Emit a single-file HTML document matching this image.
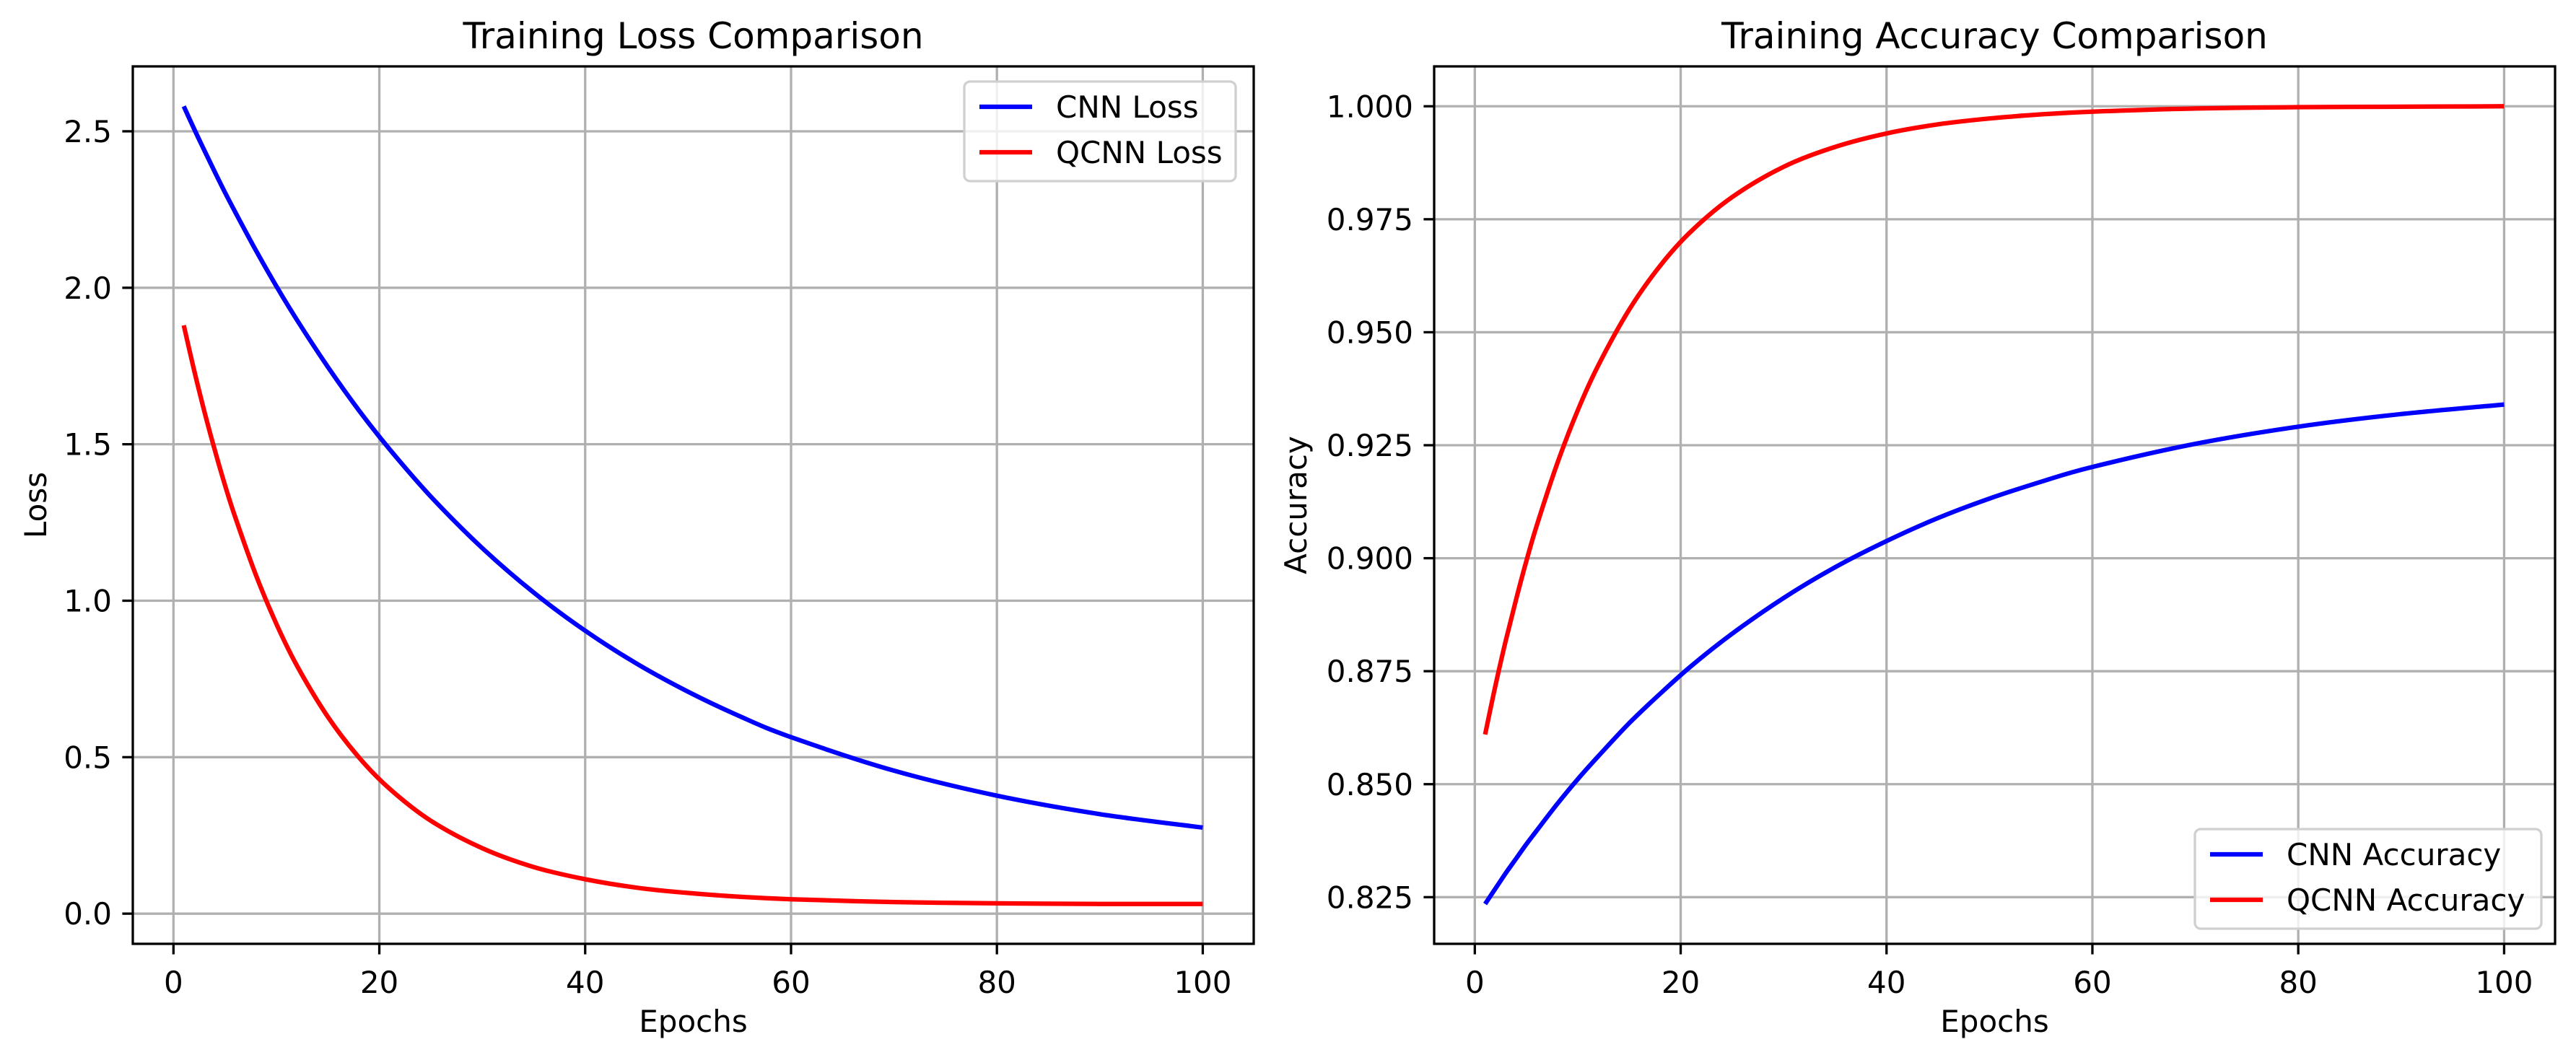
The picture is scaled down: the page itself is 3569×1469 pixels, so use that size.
<!DOCTYPE html>
<html><head><meta charset="utf-8"><style>
html,body{margin:0;padding:0;background:#fff;}
svg{display:block;font-family:"DejaVu Sans","Liberation Sans",sans-serif;}
</style></head><body>
<svg id="fig" width="3569" height="1469" viewBox="0 0 3569 1469" xmlns="http://www.w3.org/2000/svg">
<rect x="0" y="0" width="3569" height="1469" fill="#fff"/>
</svg>
<script>
const epochs = [1,2,3,4,5,6,8,10,12,15,18,21,25,30,35,40,45,50,55,60,70,80,90,100];
const cnnLoss = [2.58,2.508,2.439,2.371,2.305,2.242,2.120,2.005,1.897,1.747,1.609,1.484,1.333,1.168,1.026,0.904,0.799,0.709,0.631,0.564,0.457,0.377,0.318,0.275];
const qcnnLoss = [1.88,1.737,1.605,1.483,1.370,1.267,1.083,0.926,0.792,0.629,0.500,0.399,0.297,0.209,0.149,0.110,0.083,0.066,0.054,0.046,0.037,0.033,0.031,0.031];
const cnnAcc = [0.8235,0.8269,0.8303,0.8335,0.8367,0.8397,0.8456,0.8511,0.8562,0.8635,0.8700,0.8761,0.8833,0.8912,0.8980,0.9038,0.9089,0.9132,0.9169,0.9202,0.9253,0.9291,0.9319,0.9340];
const qcnnAcc = [0.861,0.8718,0.8817,0.8908,0.8993,0.9071,0.9209,0.9327,0.9427,0.9550,0.9647,0.9723,0.9799,0.9866,0.9910,0.9940,0.9960,0.9973,0.9982,0.9988,0.9995,0.9998,0.9999,1.0000];
const xTicks = [0,20,40,60,80,100];
const lossTicks = [0.0,0.5,1.0,1.5,2.0,2.5];
const lossTickLabels = ["0.0","0.5","1.0","1.5","2.0","2.5"];
const accTicks = [0.825,0.85,0.875,0.9,0.925,0.95,0.975,1.0];
const accTickLabels = ["0.825","0.850","0.875","0.900","0.925","0.950","0.975","1.000"];

const NS = "http://www.w3.org/2000/svg";
const svg = document.getElementById('fig');
function mk(tag, attrs, parent){
  const e = document.createElementNS(NS, tag);
  for (const k in attrs) e.setAttribute(k, attrs[k]);
  (parent||svg).appendChild(e);
  return e;
}
function txt(s, attrs, parent){ const e = mk('text', attrs, parent); e.textContent = s; return e; }
function smoothPath(P){
  let d='M'+P[0][0].toFixed(1)+','+P[0][1].toFixed(1);
  for(let i=0;i<P.length-1;i++){
    const p0=P[Math.max(i-1,0)],p1=P[i],p2=P[i+1],p3=P[Math.min(i+2,P.length-1)];
    const c1x=p1[0]+(p2[0]-p0[0])/6,c1y=p1[1]+(p2[1]-p0[1])/6;
    const c2x=p2[0]-(p3[0]-p1[0])/6,c2y=p2[1]-(p3[1]-p1[1])/6;
    d+=` C${c1x.toFixed(1)},${c1y.toFixed(1)} ${c2x.toFixed(1)},${c2y.toFixed(1)} ${p2[0].toFixed(1)},${p2[1].toFixed(1)}`;
  }
  return d;
}

function panel(cfg){
  const g = mk('g', {});
  
  
  const L=cfg.left,R=cfg.right,T=92,B=1308;
  const allY = cfg.series.flatMap(s=>s.values);
  let ymin=Math.min(...allY), ymax=Math.max(...allY);
  const ym=(ymax-ymin)*0.05; ymin-=ym; ymax+=ym;
  const xmn=Math.min(...epochs), xmx=Math.max(...epochs);
  const xm=(xmx-xmn)*0.05;
  const x0=xmn-xm, x1=xmx+xm;
  const sx=v=>L+(v-x0)/(x1-x0)*(R-L);
  const sy=v=>B-(v-ymin)/(ymax-ymin)*(B-T);
  xTicks.forEach(t=>{
    const l=mk('line',{x1:sx(t),x2:sx(t),y1:T,y2:B,stroke:'#b0b0b0','stroke-width':3.3},g);
    
    
  });
  cfg.yTicks.forEach(t=>{
    const l=mk('line',{x1:L,x2:R,y1:sy(t),y2:sy(t),stroke:'#b0b0b0','stroke-width':3.3},g);
    
    
  });
  cfg.series.forEach(s=>{
    const P=epochs.map((e,i)=>[sx(e),sy(s.values[i])]);
    const p=mk('path',{d:smoothPath(P),fill:'none',stroke:s.color,'stroke-width':6.25,'stroke-linejoin':'round'},g);
    
    
  });
  const fr=mk('rect',{x:L,y:T,width:R-L,height:B-T,fill:'none',stroke:'#000','stroke-width':3.3},g);
  
  
  xTicks.forEach(t=>{
    mk('line',{x1:sx(t),x2:sx(t),y1:B,y2:B+14.6,stroke:'#000','stroke-width':3.3},g);
    const tl=txt(String(t),{x:sx(t),y:1376,'font-size':42,'text-anchor':'middle',fill:'#000'},g);
    
    
  });
  cfg.yTicks.forEach((t,i)=>{
    mk('line',{x1:L-14.6,x2:L,y1:sy(t),y2:sy(t),stroke:'#000','stroke-width':3.3},g);
    const tl=txt(cfg.yLabels[i],{x:L-29,y:sy(t)+15,'font-size':42,'text-anchor':'end',fill:'#000'},g);
    
    
  });
  const ti=txt(cfg.title,{x:(L+R)/2,y:67,'font-size':50,'text-anchor':'middle',fill:'#000'},g);
  
  
  const xl=txt('Epochs',{x:(L+R)/2,y:1430,'font-size':42,'text-anchor':'middle',fill:'#000'},g);
  
  
  const yl=txt(cfg.ylabel,{x:0,y:0,'font-size':42,'text-anchor':'middle',fill:'#000',transform:`translate(${cfg.ylabelX},${(T+B)/2}) rotate(-90)`},g);
  
  
  const lg=mk('g',{},g);
  
  
  mk('rect',{x:cfg.leg.x,y:cfg.leg.y,width:cfg.leg.w,height:cfg.leg.h,rx:8,fill:'#fff','fill-opacity':0.8,stroke:'#d0d0d0','stroke-width':3.3},lg);
  cfg.series.forEach((s,i)=>{
    const yy=cfg.leg.y+35+i*63;
    const le=mk('g',{},lg);
    
    
    mk('line',{x1:cfg.leg.x+21,x2:cfg.leg.x+94,y1:yy,y2:yy,stroke:s.color,'stroke-width':6.25},le);
    txt(s.label,{x:cfg.leg.x+127,y:yy+15,'font-size':42,fill:'#000'},le);
  });
}

panel({name:'loss-chart',left:184,right:1737,title:'Training Loss Comparison',ylabel:'Loss',ylabelX:64,
  yTicks:lossTicks,yLabels:lossTickLabels,
  series:[{id:'cnn-loss-line',values:cnnLoss,color:'#0000ff',label:'CNN Loss'},{id:'qcnn-loss-line',values:qcnnLoss,color:'#ff0000',label:'QCNN Loss'}],
  leg:{x:1336,y:113,w:376,h:138}});
panel({name:'accuracy-chart',left:1987,right:3540,title:'Training Accuracy Comparison',ylabel:'Accuracy',ylabelX:1810,
  yTicks:accTicks,yLabels:accTickLabels,
  series:[{id:'cnn-accuracy-line',values:cnnAcc,color:'#0000ff',label:'CNN Accuracy'},{id:'qcnn-accuracy-line',values:qcnnAcc,color:'#ff0000',label:'QCNN Accuracy'}],
  leg:{x:3041,y:1149,w:480,h:138}});
</script>
</body></html>
